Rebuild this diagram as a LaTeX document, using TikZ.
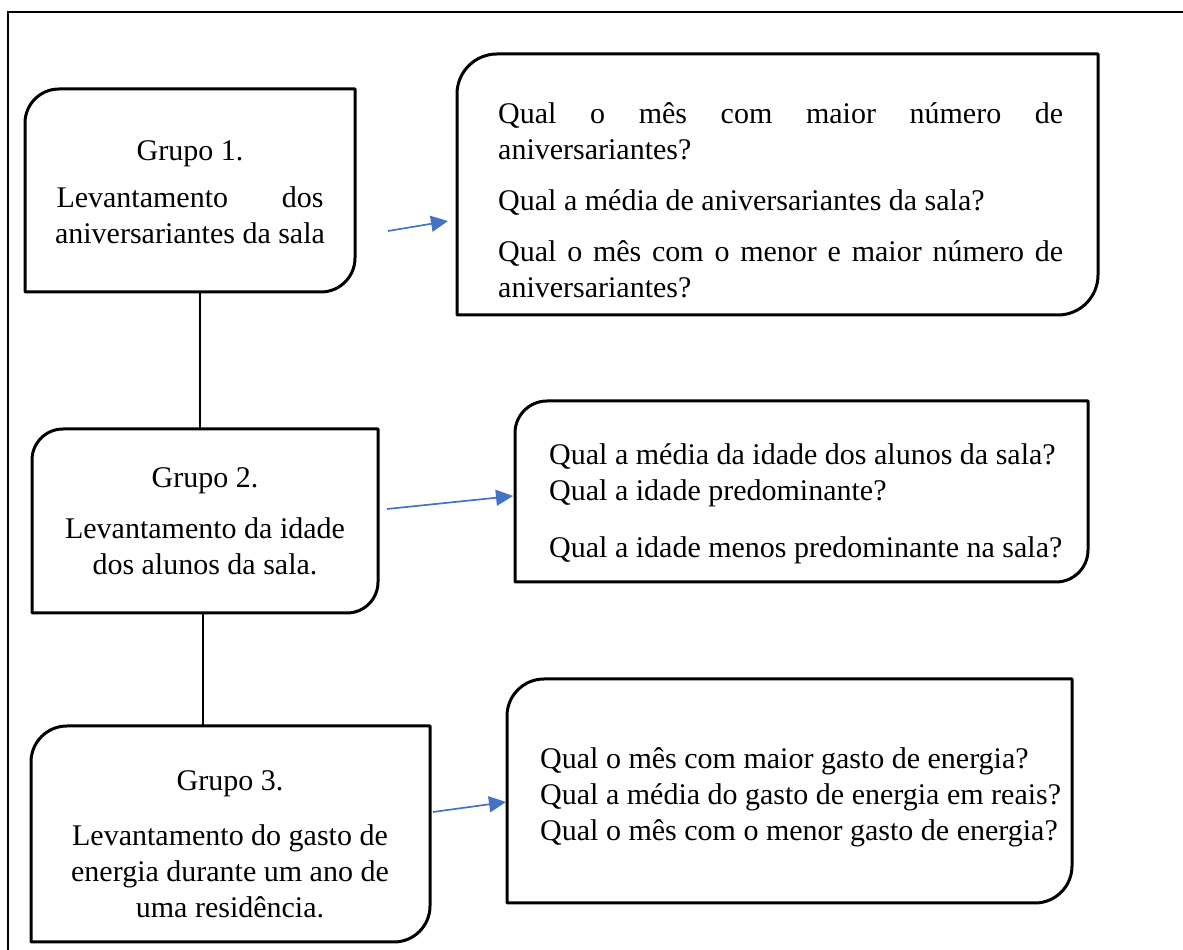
\documentclass[tikz,border=0pt]{standalone}
\usepackage{fontspec}
\setmainfont{Liberation Serif}
\usetikzlibrary{arrows.meta,calc}
\definecolor{arrblue}{HTML}{4472C4}
\newcommand\diagshape[2]{%
  \draw[boxline] ([xshift=#2pt]#1.north west) -- (#1.north east) -- ([yshift=#2pt]#1.south east)
    arc[start angle=0,end angle=-90,radius=#2pt] -- (#1.south west) -- ([yshift=-#2pt]#1.north west)
    arc[start angle=180,end angle=90,radius=#2pt] -- cycle;}
\begin{document}
\begin{tikzpicture}[x=1pt,y=1pt,
  frame/.style={line width=2.3pt},
  boxline/.style={line width=3pt, line join=round},
  link/.style={line width=2.8pt},
  qarrow/.style={draw=arrblue, line width=1.7pt, -{Triangle[length=17pt,width=16pt]}},
  box/.style={inner sep=0pt, outer sep=0pt, minimum width=#1},
  txt/.style={inner sep=0pt, font=\fontsize{30}{36}\selectfont},
]
\useasboundingbox (0,0) rectangle (1183,950);
% outer frame
\draw[frame] (8,0) -- (8,938) -- (1183,938);
% boxes
\node[box=330pt, minimum height=203pt] (b1) at (190,759.5) {};
\node[box=641pt, minimum height=261pt] (q1) at (777.5,765.5) {};
\node[box=346pt, minimum height=184pt] (b2) at (205,429) {};
\node[box=573pt, minimum height=181pt] (q2) at (801.5,458.5) {};
\node[box=399pt, minimum height=216pt] (b3) at (230.5,116) {};
\node[box=565pt, minimum height=224pt] (q3) at (789.5,159) {};
\diagshape{b1}{34}
\diagshape{q1}{40}
\diagshape{b2}{31}
\diagshape{q2}{32}
\diagshape{b3}{36}
\diagshape{q3}{37}
% connectors
\draw[link] ([xshift=10pt]b1.south) -- ([xshift=10pt]b1.south |- b2.north);
\draw[link] ([xshift=-2pt]b2.south) -- ([xshift=-2pt]b2.south |- b3.north);
% arrows
\coordinate (a1s) at (388,719); \coordinate (a1e) at (448,729);
\coordinate (a2s) at (387,441); \coordinate (a2e) at (513,454);
\coordinate (a3s) at (433,138); \coordinate (a3e) at (506,148);
\draw[qarrow] (a1s) -- (a1e);
\draw[qarrow] (a2s) -- (a2e);
\draw[qarrow] (a3s) -- (a3e);
% texts
\node[txt, anchor=north, align=center] (t1) at (190,810)
  {Grupo 1.\\[11pt]\makebox[267pt][s]{Levantamento dos}\\aniversariantes da sala};
\node[txt, anchor=north, align=center] (t2) at (205,483)
  {Grupo 2.\\[15pt]Levantamento da idade\\dos alunos da sala.};
\node[txt, anchor=north, align=center] (t3) at (230,180)
  {Grupo 3.\\[19pt]Levantamento do gasto de\\energia durante um ano de\\uma residência.};
\node[txt, anchor=north west, align=left] (tq1) at (498,848)
  {\makebox[565pt][s]{Qual o mês com maior número de}\\aniversariantes?\\[15pt]Qual a média de aniversariantes da sala?\\[15pt]\makebox[565pt][s]{Qual o mês com o menor e maior número de}\\aniversariantes?};
\node[txt, anchor=north west, align=left] (tq2) at (549,507)
  {Qual a média da idade dos alunos da sala?\\Qual a idade predominante?\\[21pt]Qual a idade menos predominante na sala?};
\node[txt, anchor=north west, align=left] (tq3) at (540,203)
  {Qual o mês com maior gasto de energia?\\Qual a média do gasto de energia em reais?\\Qual o mês com o menor gasto de energia?};
\end{tikzpicture}
\end{document}
